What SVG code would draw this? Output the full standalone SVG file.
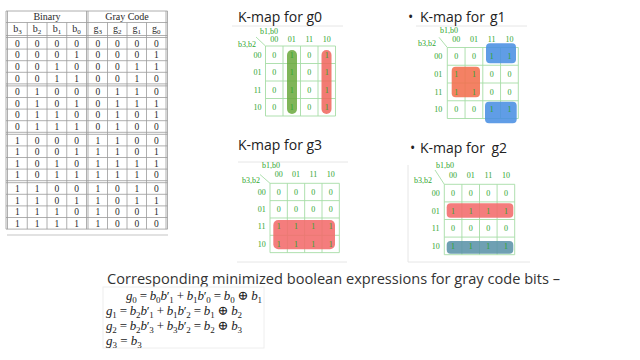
<svg xmlns="http://www.w3.org/2000/svg" width="640" height="360" viewBox="0 0 640 360">
<style>
.tl{stroke:#9a9a9a;stroke-width:0.8;fill:none}
.tb{font-family:"Liberation Serif","DejaVu Serif",serif;font-size:9.5px;fill:#2a2a2a;text-anchor:middle}
.th{font-family:"Liberation Serif","DejaVu Serif",serif;font-size:10px;fill:#2a2a2a;text-anchor:middle}
.sb{font-size:7px}
.km{font-family:"Liberation Serif","DejaVu Serif",serif;font-size:8px;fill:#2fa52f;text-anchor:middle}
.kg{stroke:#a6dca6;stroke-width:0.9;fill:none}
.ttl{font-family:"Open Sans","Liberation Sans",sans-serif;font-size:14px;fill:#222}
.frame{stroke:#e6e6e6;stroke-width:1;fill:none}
.eq{font-family:"Liberation Serif","DejaVu Serif",serif;font-size:13px;fill:#222}
.i{font-style:italic}
.es{font-size:9px}
</style>
<rect width="640" height="360" fill="#fff"/>

<g id="truth-table">
<line x1="7" y1="235" x2="168" y2="235" stroke="#e2e2e2" stroke-width="2"/>
<path class="tl" d="M6,11H167.5M6,22.5H167.5M6,35.5H167.5M6,37.5H167.5M6,49.1H167.5M6,60.7H167.5M6,72.3H167.5M6,83.9H167.5M6,85.9H167.5M6,97.5H167.5M6,109.1H167.5M6,120.7H167.5M6,132.3H167.5M6,134.3H167.5M6,145.9H167.5M6,157.5H167.5M6,169.1H167.5M6,180.7H167.5M6,182.7H167.5M6,194.3H167.5M6,205.9H167.5M6,217.5H167.5M6,229.1H167.5"/>
<path class="tl" d="M6,11V229.1M7.5,11V229.1M86.5,11V229.1M88,11V229.1M166,11V229.1M167.5,11V229.1M27.25,22.5V229.1M47,22.5V229.1M66.75,22.5V229.1M107.5,22.5V229.1M127,22.5V229.1M146.5,22.5V229.1"/>
<text class="th" x="47" y="20.3">Binary</text>
<text class="th" x="127" y="20.3">Gray Code</text>
<text class="th" x="17.4" y="32">b<tspan class="sb" dy="2">3</tspan></text>
<text class="th" x="37.1" y="32">b<tspan class="sb" dy="2">2</tspan></text>
<text class="th" x="56.9" y="32">b<tspan class="sb" dy="2">1</tspan></text>
<text class="th" x="76.6" y="32">b<tspan class="sb" dy="2">0</tspan></text>
<text class="th" x="97.75" y="32">g<tspan class="sb" dy="2">3</tspan></text>
<text class="th" x="117.25" y="32">g<tspan class="sb" dy="2">2</tspan></text>
<text class="th" x="136.75" y="32">g<tspan class="sb" dy="2">1</tspan></text>
<text class="th" x="156.25" y="32">g<tspan class="sb" dy="2">0</tspan></text>
<g class="tb">
<text x="17.4 37.1 56.9 76.6 97.75 117.25 136.75 156.25" y="46.7">00000000</text>
<text x="17.4 37.1 56.9 76.6 97.75 117.25 136.75 156.25" y="58.3">00010001</text>
<text x="17.4 37.1 56.9 76.6 97.75 117.25 136.75 156.25" y="69.9">00100011</text>
<text x="17.4 37.1 56.9 76.6 97.75 117.25 136.75 156.25" y="81.5">00110010</text>
<text x="17.4 37.1 56.9 76.6 97.75 117.25 136.75 156.25" y="95.1">01000110</text>
<text x="17.4 37.1 56.9 76.6 97.75 117.25 136.75 156.25" y="106.7">01010111</text>
<text x="17.4 37.1 56.9 76.6 97.75 117.25 136.75 156.25" y="118.3">01100101</text>
<text x="17.4 37.1 56.9 76.6 97.75 117.25 136.75 156.25" y="129.9">01110100</text>
<text x="17.4 37.1 56.9 76.6 97.75 117.25 136.75 156.25" y="143.5">10001100</text>
<text x="17.4 37.1 56.9 76.6 97.75 117.25 136.75 156.25" y="155.1">10011101</text>
<text x="17.4 37.1 56.9 76.6 97.75 117.25 136.75 156.25" y="166.7">10101111</text>
<text x="17.4 37.1 56.9 76.6 97.75 117.25 136.75 156.25" y="178.3">10111110</text>
<text x="17.4 37.1 56.9 76.6 97.75 117.25 136.75 156.25" y="191.9">11001010</text>
<text x="17.4 37.1 56.9 76.6 97.75 117.25 136.75 156.25" y="203.5">11011011</text>
<text x="17.4 37.1 56.9 76.6 97.75 117.25 136.75 156.25" y="215.1">11101001</text>
<text x="17.4 37.1 56.9 76.6 97.75 117.25 136.75 156.25" y="226.7">11111000</text>
</g>
</g>

<g id="kmap-g0">
<line class="frame" x1="232" y1="26" x2="343" y2="26"/>
<text class="ttl" x="238" y="22">K-map for g0</text>
<path class="kg" d="M265.5,46H335.5M265.5,63.5H335.5M265.5,81H335.5M265.5,98.5H335.5M265.5,116H335.5M265.5,46V116M283,46V116M300.5,46V116M318,46V116M335.5,46V116M256,37L265.5,46"/>
<rect x="287" y="50" width="10" height="64" rx="5" fill="#6aa83c" opacity="0.85"/>
<rect x="321.5" y="50" width="10" height="64" rx="5" fill="#f0645a" opacity="0.85"/>
<text class="km" x="269" y="33.5">b1,b0</text>
<text class="km" x="247" y="47">b3,b2</text>
<text class="km" x="274.25" y="41.8">00</text><text class="km" x="291.75" y="41.8">01</text><text class="km" x="309.25" y="41.8">11</text><text class="km" x="326.75" y="41.8">10</text>
<text class="km" x="257.5" y="57.5">00</text><text class="km" x="257.5" y="75">01</text><text class="km" x="257.5" y="92.5">11</text><text class="km" x="257.5" y="110">10</text>
<text class="km" x="274.25 291.75 309.25 326.75" y="57.5">0101</text>
<text class="km" x="274.25 291.75 309.25 326.75" y="75">0101</text>
<text class="km" x="274.25 291.75 309.25 326.75" y="92.5">0101</text>
<text class="km" x="274.25 291.75 309.25 326.75" y="110">0101</text>
</g>

<g id="kmap-g1">
<line class="frame" x1="416" y1="26" x2="527" y2="26"/>
<text class="ttl" y="22"><tspan x="408">•</tspan><tspan x="420">K-map for</tspan><tspan x="490">g1</tspan></text>
<path class="kg" d="M447.3,47.5H518.3M447.3,65.25H518.3M447.3,83H518.3M447.3,100.75H518.3M447.3,118.5H518.3M447.3,47.5V118.5M465.05,47.5V118.5M482.8,47.5V118.5M500.55,47.5V118.5M518.3,47.5V118.5M439,37.3L447.3,47.5"/>
<rect x="486" y="43.3" width="30" height="20" rx="4" fill="#4a8fe3" opacity="0.88"/>
<rect x="485" y="101.7" width="31.7" height="21.6" rx="4" fill="#4a8fe3" opacity="0.88"/>
<rect x="451.7" y="66.7" width="28.3" height="30.6" rx="4" fill="#f2704f" opacity="0.88"/>
<text class="km" x="449" y="32.5">b1,b0</text>
<text class="km" x="427" y="45.5">b3,b2</text>
<text class="km" x="456.2" y="42">00</text><text class="km" x="473.9" y="42">01</text><text class="km" x="491.7" y="42">11</text><text class="km" x="509.4" y="42">10</text>
<text class="km" x="438.3" y="59.2">00</text><text class="km" x="438.3" y="76.9">01</text><text class="km" x="438.3" y="94.7">11</text><text class="km" x="438.3" y="112.4">10</text>
<text class="km" x="456.2 473.9 491.7 509.4" y="59.2">0011</text>
<text class="km" x="456.2 473.9 491.7 509.4" y="76.9">1100</text>
<text class="km" x="456.2 473.9 491.7 509.4" y="94.7">1100</text>
<text class="km" x="456.2 473.9 491.7 509.4" y="112.4">0011</text>
</g>

<g id="kmap-g3">
<line class="frame" x1="238" y1="162" x2="348" y2="162"/>
<line class="frame" x1="237" y1="262" x2="347" y2="262"/>
<text class="ttl" x="238" y="150">K-map for g3</text>
<path class="kg" d="M270,183.3H339.33M270,200.63H339.33M270,217.97H339.33M270,235.3H339.33M270,252.63H339.33M270,183.3V252.63M287.33,183.3V252.63M304.67,183.3V252.63M322,183.3V252.63M339.33,183.3V252.63M260,174.5L270,183.3"/>
<rect x="273.3" y="220" width="61.7" height="29.3" rx="5" fill="#f26b6b" opacity="0.88"/>
<text class="km" x="271" y="168.3">b1,b0</text>
<text class="km" x="251" y="183.3">b3,b2</text>
<text class="km" x="278.67" y="177">00</text><text class="km" x="296" y="177">01</text><text class="km" x="313.33" y="177">11</text><text class="km" x="330.67" y="177">10</text>
<text class="km" x="261.7" y="194.8">00</text><text class="km" x="261.7" y="212.1">01</text><text class="km" x="261.7" y="229.4">11</text><text class="km" x="261.7" y="246.8">10</text>
<text class="km" x="278.67 296 313.33 330.67" y="194.8">0000</text>
<text class="km" x="278.67 296 313.33 330.67" y="212.1">0000</text>
<text class="km" x="278.67 296 313.33 330.67" y="229.4">1111</text>
<text class="km" x="278.67 296 313.33 330.67" y="246.8">1111</text>
</g>

<g id="kmap-g2">
<path class="frame" d="M408,165V262H530"/>
<text class="ttl" y="153"><tspan x="410">•</tspan><tspan x="420">K-map for</tspan><tspan x="491.5">g2</tspan></text>
<path class="kg" d="M444.3,184.3H514.7M444.3,201.9H514.7M444.3,219.5H514.7M444.3,237.1H514.7M444.3,254.7H514.7M444.3,184.3V254.7M461.9,184.3V254.7M479.5,184.3V254.7M497.1,184.3V254.7M514.7,184.3V254.7M435,170L444.3,184.3"/>
<rect x="446.7" y="203.3" width="66.6" height="14.4" rx="4" fill="#f26b6b" opacity="0.88"/>
<rect x="446.7" y="241" width="66.6" height="12.7" rx="4" fill="#5b93a8" opacity="0.88"/>
<text class="km" x="445" y="168.3">b1,b0</text>
<text class="km" x="423" y="182.8">b3,b2</text>
<text class="km" x="453.1" y="177.8">00</text><text class="km" x="470.7" y="177.8">01</text><text class="km" x="488.3" y="177.8">11</text><text class="km" x="505.9" y="177.8">10</text>
<text class="km" x="435.7" y="195.9">00</text><text class="km" x="435.7" y="213.5">01</text><text class="km" x="435.7" y="231.1">11</text><text class="km" x="435.7" y="248.7">10</text>
<text class="km" x="453.1 470.7 488.3 505.9" y="195.9">0000</text>
<text class="km" x="453.1 470.7 488.3 505.9" y="213.5">1111</text>
<text class="km" x="453.1 470.7 488.3 505.9" y="231.1">0000</text>
<text class="km" x="453.1 470.7 488.3 505.9" y="248.7">1111</text>
</g>

<g id="expressions">
<text x="107" y="284" font-family="Open Sans, Liberation Sans, sans-serif" font-size="15" fill="#333" textLength="453" lengthAdjust="spacingAndGlyphs">Corresponding minimized boolean expressions for gray code bits –</text>
<rect x="103" y="287" width="161" height="61" fill="#fff" stroke="#eeeeee"/>
<text class="eq" x="126" y="300" textLength="136"><tspan class="i">g</tspan><tspan class="es" dy="2.5">0</tspan><tspan dy="-2.5"> = </tspan><tspan class="i">b</tspan><tspan class="es" dy="2.5">0</tspan><tspan class="i" dy="-2.5">b</tspan><tspan>′</tspan><tspan class="es" dy="2.5">1</tspan><tspan dy="-2.5"> + </tspan><tspan class="i">b</tspan><tspan class="es" dy="2.5">1</tspan><tspan class="i" dy="-2.5">b</tspan><tspan>′</tspan><tspan class="es" dy="2.5">0</tspan><tspan dy="-2.5"> = </tspan><tspan class="i">b</tspan><tspan class="es" dy="2.5">0</tspan><tspan dy="-2.5"> ⊕ </tspan><tspan class="i">b</tspan><tspan class="es" dy="2.5">1</tspan></text>
<text class="eq" x="106" y="315" textLength="136"><tspan class="i">g</tspan><tspan class="es" dy="2.5">1</tspan><tspan dy="-2.5"> = </tspan><tspan class="i">b</tspan><tspan class="es" dy="2.5">2</tspan><tspan class="i" dy="-2.5">b</tspan><tspan>′</tspan><tspan class="es" dy="2.5">1</tspan><tspan dy="-2.5"> + </tspan><tspan class="i">b</tspan><tspan class="es" dy="2.5">1</tspan><tspan class="i" dy="-2.5">b</tspan><tspan>′</tspan><tspan class="es" dy="2.5">2</tspan><tspan dy="-2.5"> = </tspan><tspan class="i">b</tspan><tspan class="es" dy="2.5">1</tspan><tspan dy="-2.5"> ⊕ </tspan><tspan class="i">b</tspan><tspan class="es" dy="2.5">2</tspan></text>
<text class="eq" x="106" y="330" textLength="136"><tspan class="i">g</tspan><tspan class="es" dy="2.5">2</tspan><tspan dy="-2.5"> = </tspan><tspan class="i">b</tspan><tspan class="es" dy="2.5">2</tspan><tspan class="i" dy="-2.5">b</tspan><tspan>′</tspan><tspan class="es" dy="2.5">3</tspan><tspan dy="-2.5"> + </tspan><tspan class="i">b</tspan><tspan class="es" dy="2.5">3</tspan><tspan class="i" dy="-2.5">b</tspan><tspan>′</tspan><tspan class="es" dy="2.5">2</tspan><tspan dy="-2.5"> = </tspan><tspan class="i">b</tspan><tspan class="es" dy="2.5">2</tspan><tspan dy="-2.5"> ⊕ </tspan><tspan class="i">b</tspan><tspan class="es" dy="2.5">3</tspan></text>
<text class="eq" x="106" y="345"><tspan class="i">g</tspan><tspan class="es" dy="2.5">3</tspan><tspan dy="-2.5"> = </tspan><tspan class="i">b</tspan><tspan class="es" dy="2.5">3</tspan></text>
</g>
</svg>
